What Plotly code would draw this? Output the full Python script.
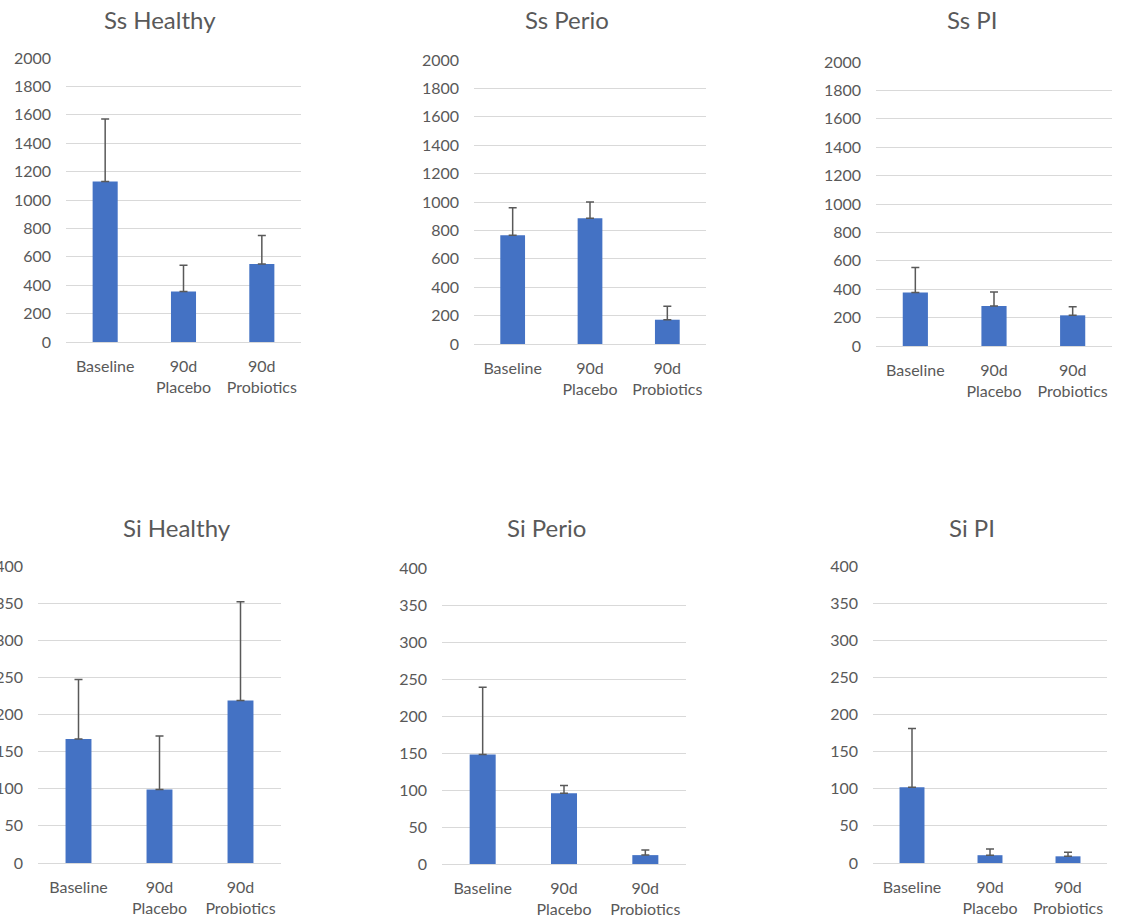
import plotly.graph_objects as go

# Categories and group means / standard deviations
categories = ["Baseline", "90d<br>Placebo", "90d<br>Probiotics"]

ss_healthy = [1130, 355, 550]
ss_healthy_sd = [440, 185, 200]
ss_perio = [765, 885, 171]
ss_perio_sd = [195, 115, 94]
ss_pi = [377, 282, 216]
ss_pi_sd = [176, 98, 61]

si_healthy = [167, 99, 219]
si_healthy_sd = [80, 72, 133]
si_perio = [148, 95.5, 12]
si_perio_sd = [91, 10.5, 7]
si_pi = [102, 10.5, 9]
si_pi_sd = [79, 8.5, 5.5]

panel_titles = ["Ss Healthy", "Ss Perio", "Ss PI", "Si Healthy", "Si Perio", "Si PI"]
ss_ticks = [0, 200, 400, 600, 800, 1000, 1200, 1400, 1600, 1800, 2000]
si_ticks = [0, 50, 100, 150, 200, 250, 300, 350, 400]

W, H = 1123, 920
FONT = "Lato"
GREY = "#595959"
BAR = "#4472C4"
GRID = "#d9d9d9"

# plot boxes in pixels: (left, right, top, bottom)
boxes = [
    (66, 301, 58, 342),
    (474, 706, 60, 344),
    (876, 1112, 62, 346),
    (38, 281, 566, 863),
    (442, 686, 568, 864),
    (873, 1107, 566, 863),
]
title_pos = [(160, 20), (567, 20), (972, 20), (177, 527), (546, 527), (972, 527)]

series = [
    (ss_healthy, ss_healthy_sd, ss_ticks, 2000),
    (ss_perio, ss_perio_sd, ss_ticks, 2000),
    (ss_pi, ss_pi_sd, ss_ticks, 2000),
    (si_healthy, si_healthy_sd, si_ticks, 400),
    (si_perio, si_perio_sd, si_ticks, 400),
    (si_pi, si_pi_sd, si_ticks, 400),
]

fig = go.Figure()
layout = {}
annotations = []
for i, ((vals, sd, ticks, ymax), (l, r, t, b), (tx, ty), name) in enumerate(
        zip(series, boxes, title_pos, panel_titles)):
    n = "" if i == 0 else str(i + 1)
    fig.add_trace(go.Bar(
        x=categories, y=vals,
        xaxis="x" + n, yaxis="y" + n,
        width=0.32,
        marker=dict(color=BAR, line=dict(width=0)),
        error_y=dict(type="data", array=sd, arrayminus=[0] * len(sd),
                     symmetric=False, color=GREY, thickness=1.5, width=4),
        showlegend=False,
        hoverinfo="x+y",
    ))
    layout["xaxis" + n] = dict(
        domain=[l / W, r / W], anchor="y" + n,
        showgrid=False, zeroline=False,
        showline=True, linecolor=GRID, linewidth=1,
        ticks="", tickfont=dict(family=FONT, size=16, color=GREY),
        ticklabelstandoff=10, automargin=False, fixedrange=True,
    )
    layout["yaxis" + n] = dict(
        domain=[1 - b / H, 1 - t / H], anchor="x" + n,
        range=[0, ymax], tickvals=ticks,
        showgrid=True, gridcolor=GRID, gridwidth=1,
        zeroline=False, showline=False, ticks="",
        tickfont=dict(family=FONT, size=16, color=GREY),
        ticklabelstandoff=14, automargin=False, fixedrange=True,
    )
    annotations.append(dict(
        text=name, x=tx / W, y=1 - ty / H, xref="paper", yref="paper",
        xanchor="center", yanchor="middle", showarrow=False,
        font=dict(family=FONT, size=24, color=GREY),
    ))

fig.update_layout(
    width=W, height=H,
    margin=dict(l=0, r=0, t=0, b=0),
    paper_bgcolor="white", plot_bgcolor="white",
    template="none",
    annotations=annotations,
    **layout,
)

fig.write_html("out.html")
